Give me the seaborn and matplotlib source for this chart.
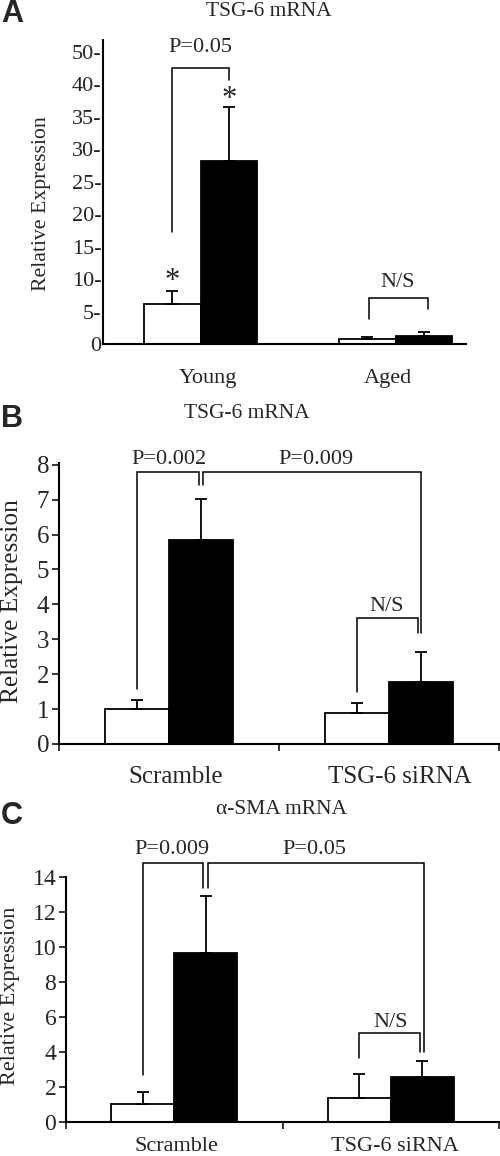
import numpy as np
import pandas as pd
import matplotlib
matplotlib.use("Agg")
import matplotlib.pyplot as plt
import seaborn as sns

# --- DATA ---
TREATMENTS = ['control', 'treated']  # white / black bars

A_GROUPS = ['Young', 'Aged']
A_MEAN = [6.2, 28.2, 0.8, 1.2]      # Young ctrl, Young trt, Aged ctrl, Aged trt
A_SD = [2.0, 8.3, 0.35, 0.7]

B_GROUPS = ['Scramble', 'TSG-6 siRNA']
B_MEAN = [1.0, 5.85, 0.89, 1.78]
B_SD = [0.26, 1.17, 0.28, 0.86]

C_GROUPS = ['Scramble', 'TSG-6 siRNA']
C_MEAN = [1.03, 9.66, 1.37, 2.57]
C_SD = [0.68, 3.25, 1.37, 0.92]

A_YTICKS = [0, 5, 10, 15, 20, 25, 30, 35, 40, 45]
A_YTICKLABELS = ['0', '5-', '10-', '15-', '20-', '25-', '30-', '35-', '40-', '50-']

W, H = 500, 1156
BAR_W = 0.58
SERIF = ['Liberation Serif', 'DejaVu Serif']
SANS = ['Liberation Sans', 'DejaVu Sans']


def box(l, t, r, b):
    return [l / W, 1 - b / H, (r - l) / W, (b - t) / H]


def make_df(groups, means, sds):
    rows = []
    i = 0
    for g in groups:
        for t in TREATMENTS:
            rows.append({'group': g, 'treatment': t, 'value': means[i], 'sd': sds[i]})
            i += 1
    return pd.DataFrame(rows)


def bar_x(gi, ti):
    return gi + (ti - 0.5) * BAR_W / 2


def draw_bars(ax, df, groups):
    sns.barplot(data=df, x='group', y='value', hue='treatment', order=groups,
                hue_order=TREATMENTS, palette=['white', 'black'], edgecolor='black',
                linewidth=1.3, width=BAR_W, errorbar=None, legend=False, ax=ax)
    xs = [bar_x(groups.index(g), TREATMENTS.index(t)) for g, t in zip(df['group'], df['treatment'])]
    ax.errorbar(xs, df['value'], yerr=[np.zeros(len(df)), df['sd']], fmt='none',
                ecolor='black', elinewidth=1.3, capsize=4.5, capthick=1.3, zorder=1)


def bracket(ax, x1, x2, ytop, y1, y2, lw=1.1):
    ax.plot([x1, x1, x2, x2], [y1, ytop, ytop, y2], color='black', lw=lw,
            clip_on=False, solid_joinstyle='miter')


def style_axes(ax):
    for s in ['top', 'right']:
        ax.spines[s].set_visible(False)
    for s in ['left', 'bottom']:
        ax.spines[s].set_linewidth(1.5)
        ax.spines[s].set_color('black')
    ax.set_xlabel('')
    ax.set_ylabel('')


sns.set_theme(style='white')
plt.rcParams['font.family'] = SERIF

fig = plt.figure(figsize=(W / 100, H / 100), dpi=100)

# ---------------- Panel A ----------------
axA = fig.add_axes(box(103, 40, 466, 344))
dfA = make_df(A_GROUPS, A_MEAN, A_SD)
draw_bars(axA, dfA, A_GROUPS)
style_axes(axA)
axA.set_xlim(-0.5, 1.36)
axA.set_ylim(0, 46.8)
axA.set_yticks(A_YTICKS)
axA.set_yticklabels(A_YTICKLABELS, fontsize=16)
axA.tick_params(axis='y', length=0, pad=1)
axA.set_xticks([0.04, 0.96])
axA.set_xticklabels(A_GROUPS, fontsize=16)
axA.tick_params(axis='x', length=0, pad=18)

bracket(axA, bar_x(0, 0), bar_x(0, 1), 42.5, 17.2, 40.6)
axA.text(0.0, 45.7, 'P=0.05', ha='center', va='center', fontsize=16)
axA.text(bar_x(0, 0), 9.6, '*', ha='center', va='center', fontsize=22)
axA.text(bar_x(0, 1), 37.6, '*', ha='center', va='center', fontsize=22)
bracket(axA, bar_x(1, 0) + 0.01, bar_x(1, 1) + 0.02, 7.1, 3.8, 5.4)
axA.text(1.01, 9.5, 'N/S', ha='center', va='center', fontsize=16)

fig.text(269 / W, 1 - 11 / H, 'TSG-6 mRNA', ha='center', va='center', fontsize=15.5)
fig.text(42 / W, 1 - 204 / H, 'Relative Expression', ha='center', va='center',
         rotation=90, fontsize=15.7)
fig.text(1 / W, 1 - 14 / H, 'A', ha='left', va='center', fontsize=22,
         fontweight='bold', family=SANS)

# ---------------- Panel B ----------------
axB = fig.add_axes(box(59, 463, 499, 744))
dfB = make_df(B_GROUPS, B_MEAN, B_SD)
draw_bars(axB, dfB, B_GROUPS)
style_axes(axB)
axB.set_xlim(-0.5, 1.5)
axB.set_ylim(0, 8.05)
axB.set_yticks(range(0, 9))
axB.set_yticklabels([str(v) for v in range(0, 9)], fontsize=18)
axB.tick_params(axis='y', left=True, direction='out', length=5, width=1.3, pad=2)
axB.set_xticks([-0.5, 0.5, 1.5])
axB.set_xticklabels([])
axB.tick_params(axis='x', which='major', bottom=True, direction='out', length=5, width=1.3)
axB.set_xticks([0.03, 1.05], minor=True)
axB.set_xticklabels(B_GROUPS, minor=True, fontsize=18)
axB.tick_params(axis='x', which='minor', bottom=True, length=0, pad=16)

bracket(axB, bar_x(0, 0), bar_x(0, 1) - 0.01, 7.8, 1.58, 7.42)
bracket(axB, bar_x(0, 1) + 0.01, bar_x(1, 1), 7.8, 7.42, 3.18)
axB.text(0.0, 8.14, 'P=0.002', ha='center', va='center', fontsize=16, clip_on=False)
axB.text(0.67, 8.14, 'P=0.009', ha='center', va='center', fontsize=16, clip_on=False)
bracket(axB, bar_x(1, 0), bar_x(1, 1) - 0.015, 3.61, 1.49, 3.18)
axB.text(0.99, 3.93, 'N/S', ha='center', va='center', fontsize=16)

fig.text(247 / W, 1 - 413 / H, 'TSG-6 mRNA', ha='center', va='center', fontsize=15.5)
fig.text(12 / W, 1 - 601 / H, 'Relative Expression', ha='center', va='center',
         rotation=90, fontsize=18.3)
fig.text(1 / W, 1 - 419 / H, 'B', ha='left', va='center', fontsize=22,
         fontweight='bold', family=SANS)

# ---------------- Panel C ----------------
axC = fig.add_axes(box(66, 877, 499, 1122))
dfC = make_df(C_GROUPS, C_MEAN, C_SD)
draw_bars(axC, dfC, C_GROUPS)
style_axes(axC)
axC.set_xlim(-0.5, 1.5)
axC.set_ylim(0, 14)
axC.set_yticks(range(0, 15, 2))
axC.set_yticklabels([str(v) for v in range(0, 15, 2)], fontsize=17)
axC.tick_params(axis='y', left=True, direction='out', length=5, width=1.3, pad=2)
axC.set_xticks([-0.5, 0.5, 1.5])
axC.set_xticklabels([])
axC.tick_params(axis='x', which='major', bottom=True, direction='out', length=5, width=1.3)
axC.set_xticks([0.01, 1.02], minor=True)
axC.set_xticklabels(C_GROUPS, minor=True, fontsize=16)
axC.tick_params(axis='x', which='minor', bottom=True, length=0, pad=11)

bracket(axC, bar_x(0, 0), bar_x(0, 1) - 0.01, 14.8, 2.69, 13.4)
bracket(axC, bar_x(0, 1) + 0.01, bar_x(1, 1) + 0.01, 14.8, 13.4, 4.0)
axC.text(-0.01, 15.6, 'P=0.009', ha='center', va='center', fontsize=16, clip_on=False)
axC.text(0.645, 15.6, 'P=0.05', ha='center', va='center', fontsize=16, clip_on=False)
bracket(axC, bar_x(1, 0), bar_x(1, 1) - 0.01, 5.09, 3.66, 4.0)
axC.text(1.0, 5.7, 'N/S', ha='center', va='center', fontsize=16)

fig.text(282 / W, 1 - 810 / H, 'α-SMA mRNA', ha='center', va='center', fontsize=15.5)
fig.text(11 / W, 1 - 996 / H, 'Relative Expression', ha='center', va='center',
         rotation=90, fontsize=16)
fig.text(1 / W, 1 - 816 / H, 'C', ha='left', va='center', fontsize=22,
         fontweight='bold', family=SANS)

fig.savefig('out.png', dpi=100, facecolor='white')
